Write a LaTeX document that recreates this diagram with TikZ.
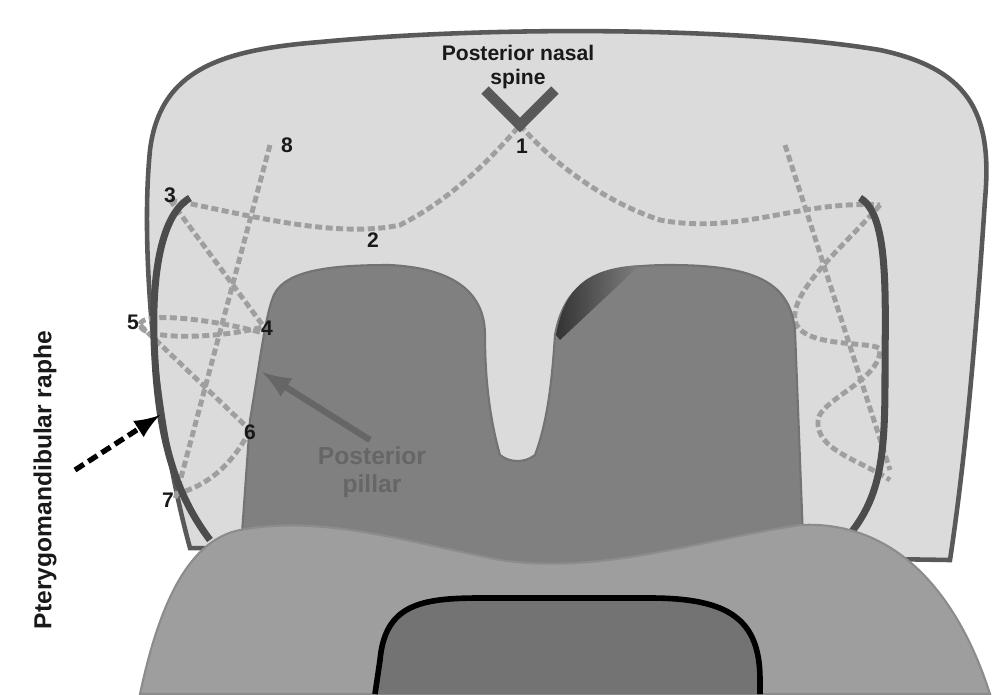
\documentclass[tikz,border=0pt]{standalone}
\usepackage{fontspec}
\setmainfont{Liberation Sans}
\begin{document}
\begin{tikzpicture}[x=0.1mm,y=-0.1mm,
 suture/.style={draw=gray!75,line width=1.4pt,dash pattern=on 2pt off 1pt},
 raphe/.style={draw=black!70,line width=2pt},
 lab/.style={font=\bfseries\fontsize{6}{7}\selectfont,text=black!90}]
\useasboundingbox (0,0) rectangle (1000,694);
\fill[white] (0,0) rectangle (1000,694);
% outer
\filldraw[fill=black!14,draw=black!65,line width=1.3pt]
 (190,548) .. controls (155,420) and (140,250) .. (150,150)
 .. controls (160,70) and (220,50) .. (320,42)
 .. controls (500,25) and (750,28) .. (880,50)
 .. controls (975,70) and (992,120) .. (985,200)
 .. controls (975,350) and (965,460) .. (950,560) -- cycle;
% dashed lines
\draw[suture] (170,200) .. controls (230,210) and (330,240) .. (400,225)
 .. controls (450,200) and (490,160) .. (520,125)
 .. controls (550,160) and (600,200) .. (660,220)
 .. controls (740,235) and (800,200) .. (880,205);
\draw[suture] (170,200) -- (270,335);
\draw[suture] (270,335) .. controls (220,320) and (140,310) .. (140,325) .. controls (140,340) and (220,340) .. (270,325);
\draw[suture] (140,325) -- (250,430);
\draw[suture] (250,430) .. controls (230,470) and (200,490) .. (170,495);
\draw[suture] (270,145) -- (175,500);
\draw[suture] (880,205) .. controls (850,240) and (790,290) .. (795,320) .. controls (800,350) and (880,340) .. (880,350)
 .. controls (880,380) and (820,400) .. (818,420) .. controls (815,450) and (860,460) .. (890,480);
\draw[suture] (785,145) -- (890,470);
% uvula region
\filldraw[fill=black!50,draw=black!55,line width=0.6pt]
 (238,590) -- (250,420) .. controls (260,360) and (265,320) .. (272,300)
 .. controls (280,270) and (330,265) .. (390,265)
 .. controls (450,268) and (485,290) .. (485,335)
 .. controls (485,380) and (490,420) .. (500,455)
 .. controls (510,463) and (525,463) .. (535,455)
 .. controls (548,420) and (552,380) .. (555,335)
 .. controls (565,280) and (600,265) .. (670,265)
 .. controls (760,265) and (790,285) .. (795,330)
 -- (805,590) -- cycle;
\shade[left color=black!80,right color=black!50] (556,335) .. controls (565,285) and (590,268) .. (640,265) -- (560,340) -- cycle;
% raphe
\draw[raphe] (190,198) .. controls (160,215) and (150,280) .. (155,360) .. controls (160,450) and (180,500) .. (210,540);
\draw[raphe] (860,198) .. controls (890,215) and (885,300) .. (885,380) .. controls (885,460) and (880,500) .. (845,540);
% lower shape
\filldraw[fill=black!38,draw=black!45,line width=0.6pt]
 (140,694) .. controls (160,600) and (190,540) .. (240,530)
 .. controls (320,515) and (400,540) .. (500,560)
 .. controls (600,575) and (700,540) .. (800,525)
 .. controls (900,520) and (960,600) .. (990,694) -- cycle;
\filldraw[fill=black!55,draw=black,line width=1.6pt]
 (375,694) -- (380,660) .. controls (385,605) and (420,598) .. (480,598)
 -- (650,598) .. controls (730,598) and (760,620) .. (760,680) -- (760,694);
% V spine
\draw[black!65,line width=3pt] (485,90) -- (520,125) -- (555,90);
% arrows
\draw[-latex,black!60,line width=1.8pt] (370,440) -- (262,372);
\draw[-latex,black,line width=1.5pt,dash pattern=on 3pt off 1.5pt] (75,470) -- (160,415);
% labels
\node[lab,align=center] (pns) at (518,67) {Posterior nasal\\spine};
\node[lab] (n1) at (522,146) {1};
\node[lab] (n2) at (373,240) {2};
\node[lab] (n3) at (170,195) {3};
\node[lab] (n4) at (267,328) {4};
\node[lab] (n5) at (133,322) {5};
\node[lab] (n6) at (250,432) {6};
\node[lab] (n7) at (168,500) {7};
\node[lab] (n8) at (287,145) {8};
\node[lab,align=center,text=black!60,font=\bfseries\fontsize{7}{8}\selectfont] (pp) at (372,472) {Posterior\\pillar};
\node[lab,rotate=90,font=\bfseries\fontsize{7}{8}\selectfont] (pr) at (45,480) {Pterygomandibular raphe};
\end{tikzpicture}
\end{document}
